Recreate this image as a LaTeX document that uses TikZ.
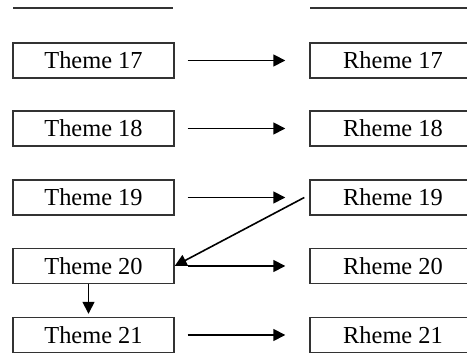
\documentclass[tikz,border=0pt]{standalone}
\usepackage{fontspec}
\setmainfont{Liberation Serif}
\usetikzlibrary{arrows.meta}

\begin{document}
\begin{tikzpicture}[x=0.5pt,y=-0.5pt,
    box/.style={draw=black!80, line width=0.7pt, minimum height=17.5pt, inner sep=0pt, font=\fontsize{12.2}{14}\selectfont},
    themebox/.style={box, minimum width=80.5pt},
    rhemebox/.style={box, minimum width=83pt},
    arr/.style={-{Triangle[length=6pt,width=6pt]}, line width=0.8pt}]
    \useasboundingbox (0,0) rectangle (467,356);
    \clip (0,0) rectangle (467,356);
    \draw[line width=0.7pt, black!80] (13,8) -- (173,8);
    \draw[line width=0.7pt, black!80] (310,8) -- (476,8);
    \foreach \n/\y in {17/60.5, 18/128.5, 19/197.5, 20/266, 21/335} {
        \node[themebox] (theme\n) at (93.5,\y) {Theme \n};
        \node[rhemebox] (rheme\n) at (393,\y) {Rheme \n};
    }
    \foreach \n in {17,18,19,20,21}
        \draw[arr, shorten <=6.5pt, shorten >=12pt] (theme\n) -- (rheme\n);
    \draw[arr] ([xshift=-2.5pt]rheme19.west) -- (theme20.east);
    \draw[arr, shorten >=1.5pt] ([xshift=-2.5pt]theme20.south) -- ([xshift=-2.5pt]theme21.north);
\end{tikzpicture}
\end{document}
